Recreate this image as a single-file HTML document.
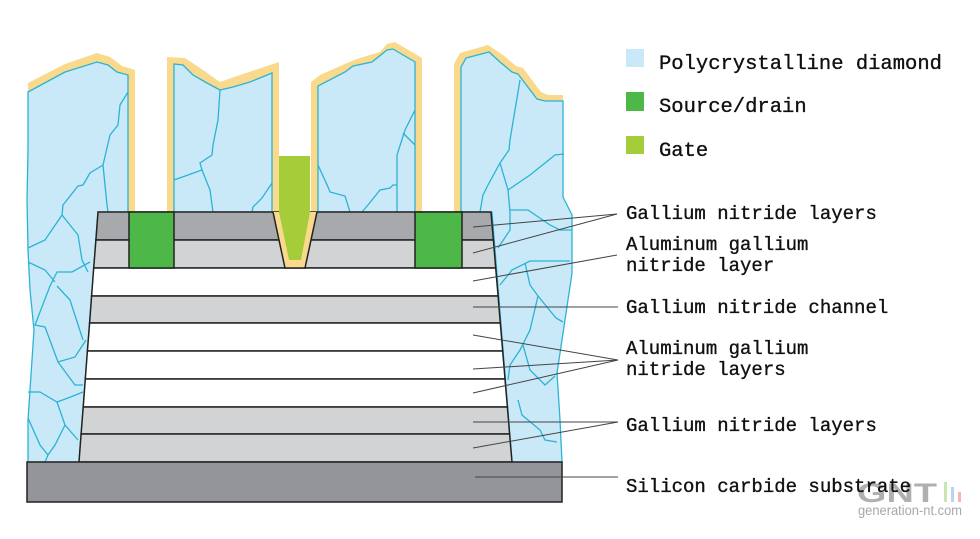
<!DOCTYPE html>
<html><head><meta charset="utf-8"><style>
html,body{margin:0;padding:0;background:#fff;}
svg{display:block;}
</style></head><body>
<svg width="980" height="539" viewBox="0 0 980 539" xmlns="http://www.w3.org/2000/svg">
<rect width="980" height="539" fill="#fff"/>
<!-- Pillar 1 -->
<polygon points="28,83 65,64 97,53 110,57 122,66 135,70 135,212 28,212" fill="#f9d98b"/>
<polygon points="28,92 65,72 97,62 108,65 117,72 128,75 128,212 98,212 79,462 28,462 28,420 30,390 34,330 30,290 28,250 27,200 28,150" fill="#c9e9f8" stroke="#2bb3d4" stroke-width="1.3"/>
<!-- Pillar 2 -->
<polygon points="167,212 167,57 185,58 200,68 220,82 240,75 279,62 279,212" fill="#f9d98b"/>
<polygon points="174,212 174,64 183,65 193,75 207,83 220,90 233,87 250,82 272,73 272,212" fill="#c9e9f8" stroke="#2bb3d4" stroke-width="1.3"/>
<!-- Pillar 3 -->
<polygon points="311,212 311,82 320,75 347,63 360,58 380,52 387,44 395,42 422,58 422,212" fill="#f9d98b"/>
<polygon points="318,212 318,86 345,72 353,66 372,62 387,50 393,49 415,62 415,212" fill="#c9e9f8" stroke="#2bb3d4" stroke-width="1.3"/>
<!-- Pillar 4 -->
<polygon points="454,212 454,64 460,53 488,45 503,55 516,66 523,68 541,92 548,95 563,95 563,212" fill="#f9d98b"/>
<polygon points="461,212 461,67 466,58 489,52 500,62 512,72 518,74 537,99 545,101 563,101 563,197 572,215 572,273 565,320 557,373 560,420 562,462 512,462 492,212" fill="#c9e9f8" stroke="#2bb3d4" stroke-width="1.3"/>
<!-- grain lines -->
<g fill="none" stroke="#2bb3d4" stroke-width="1.3">
<polyline points="128,92 120,105 118,125 110,135 103,165 90,173 83,185 78,186 63,205 62,215 45,240 28,248"/>
<polyline points="103,165 107,205 108,212"/>
<polyline points="62,215 78,235 82,260 88,272"/>
<polyline points="28,262 45,270 55,282"/>
<polyline points="90,262 72,272 57,272 50,286 35,325 45,327 58,362 75,357 86,340"/>
<polyline points="57,286 70,300 83,340"/>
<polyline points="58,362 75,385 83,385"/>
<polyline points="28,392 40,392 57,402 68,398 83,392"/>
<polyline points="57,402 65,425 78,440"/>
<polyline points="65,425 55,445 48,455 45,462"/>
<polyline points="28,418 40,445 48,455"/>
<polyline points="220,90 218,120 213,145 212,155 200,163 202,170 174,180"/>
<polyline points="202,170 210,190 213,212"/>
<polyline points="272,183 262,198 253,207 252,212"/>
<polyline points="318,165 328,187 330,192 345,196 350,212"/>
<polyline points="415,110 405,130 397,155 397,212"/>
<polyline points="403,133 415,145"/>
<polyline points="362,212 368,205 380,190 390,188 393,185 397,185"/>
<polyline points="520,80 510,140 509,150 500,163 488,185 483,195 480,212"/>
<polyline points="500,163 508,190 510,212 510,230 498,248"/>
<polyline points="508,190 530,175 555,155 564,154"/>
<polyline points="510,210 528,210 550,225 560,230 572,230"/>
<polyline points="570,261 530,261 512,270 500,285"/>
<polyline points="525,263 530,285 538,296 556,318 563,322"/>
<polyline points="538,296 530,330 520,350 510,365 508,380"/>
<polyline points="523,345 530,370 545,385 555,376"/>
<polyline points="518,400 522,415 540,430 545,440 557,442"/>
</g>
<!-- Stack layers -->
<g stroke="#222" stroke-width="1.5">
<polygon points="98,212 491,212 493.4,240 95.9,240" fill="#a7a9ac"/>
<polygon points="95.9,240 493.4,240 495.7,268 93.7,268" fill="#d1d3d4"/>
<polygon points="93.7,268 495.7,268 498.1,296 91.6,296" fill="#ffffff"/>
<polygon points="91.6,296 498.1,296 500.3,323 89.6,323" fill="#d1d3d4"/>
<polygon points="89.6,323 500.3,323 502.7,351 87.4,351" fill="#ffffff"/>
<polygon points="87.4,351 502.7,351 505.0,379 85.3,379" fill="#ffffff"/>
<polygon points="85.3,379 505.0,379 507.4,407 83.2,407" fill="#ffffff"/>
<polygon points="83.2,407 507.4,407 509.6,434 81.1,434" fill="#d1d3d4"/>
<polygon points="81.1,434 509.6,434 512,462 79,462" fill="#d1d3d4"/>
<rect x="27" y="462" width="535" height="40" fill="#939598"/>
</g>
<!-- trench -->
<polygon points="273,212 317,212 305,268 285,268" fill="#f9d98b"/>
<line x1="273" y1="212" x2="285" y2="268" stroke="#222" stroke-width="1.5"/>
<line x1="317" y1="212" x2="305" y2="268" stroke="#222" stroke-width="1.5"/>
<line x1="284" y1="268" x2="306" y2="268" stroke="#222" stroke-width="1.5"/>
<!-- gate -->
<polygon points="279,156 310,156 310,212 301,260 289,260 279,212" fill="#a4cd39"/>
<!-- source/drain -->
<rect x="129" y="212" width="45" height="56" fill="#4db848" stroke="#222" stroke-width="1.5"/>
<rect x="415" y="212" width="47" height="56" fill="#4db848" stroke="#222" stroke-width="1.5"/>
<!-- label lines -->
<g stroke="#444" stroke-width="1" fill="none">
<line x1="473" y1="227" x2="617" y2="214"/>
<line x1="473" y1="253" x2="617" y2="214"/>
<line x1="473" y1="281" x2="617" y2="255"/>
<line x1="473" y1="307" x2="618" y2="307"/>
<line x1="473" y1="335" x2="618" y2="360"/>
<line x1="473" y1="369" x2="618" y2="360"/>
<line x1="473" y1="393" x2="618" y2="360"/>
<line x1="473" y1="422" x2="618" y2="422"/>
<line x1="473" y1="448" x2="618" y2="422"/>
<line x1="475" y1="477" x2="618" y2="477"/>
</g>
<!-- legend -->
<rect x="626" y="49" width="18" height="18" fill="#c9e9f8"/>
<rect x="626" y="92" width="18" height="19" fill="#4db848"/>
<rect x="626" y="136" width="18" height="18" fill="#a4cd39"/>
<!-- watermark -->
<text x="857" y="502" font-family="'Liberation Sans', sans-serif" font-size="27" font-weight="bold" fill="#b0b0b0" textLength="80" lengthAdjust="spacingAndGlyphs">GNT</text>
<rect x="944" y="482" width="3" height="20" fill="#c8e6b0"/>
<rect x="951" y="487" width="3" height="15" fill="#b9d3f2"/>
<rect x="958" y="492" width="3" height="10" fill="#f3b5b5"/>
<text x="858" y="515" font-family="'Liberation Sans', sans-serif" font-size="14" fill="#a8a8a8" textLength="104" lengthAdjust="spacingAndGlyphs">generation-nt.com</text>
<g font-family="'Liberation Mono', monospace" fill="#111" stroke="#111" stroke-width="0.35">
<text x="659" y="69" font-size="20.5">Polycrystalline diamond</text>
<text x="659" y="112" font-size="20.5">Source/drain</text>
<text x="659" y="156" font-size="20.5">Gate</text>
<g font-size="19">
<text x="626" y="219">Gallium nitride layers</text>
<text x="626" y="250">Aluminum gallium</text>
<text x="626" y="271">nitride layer</text>
<text x="626" y="313">Gallium nitride channel</text>
<text x="626" y="354">Aluminum gallium</text>
<text x="626" y="375">nitride layers</text>
<text x="626" y="431">Gallium nitride layers</text>
<text x="626" y="492">Silicon carbide substrate</text>
</g>
</g>
</svg>
</body></html>
